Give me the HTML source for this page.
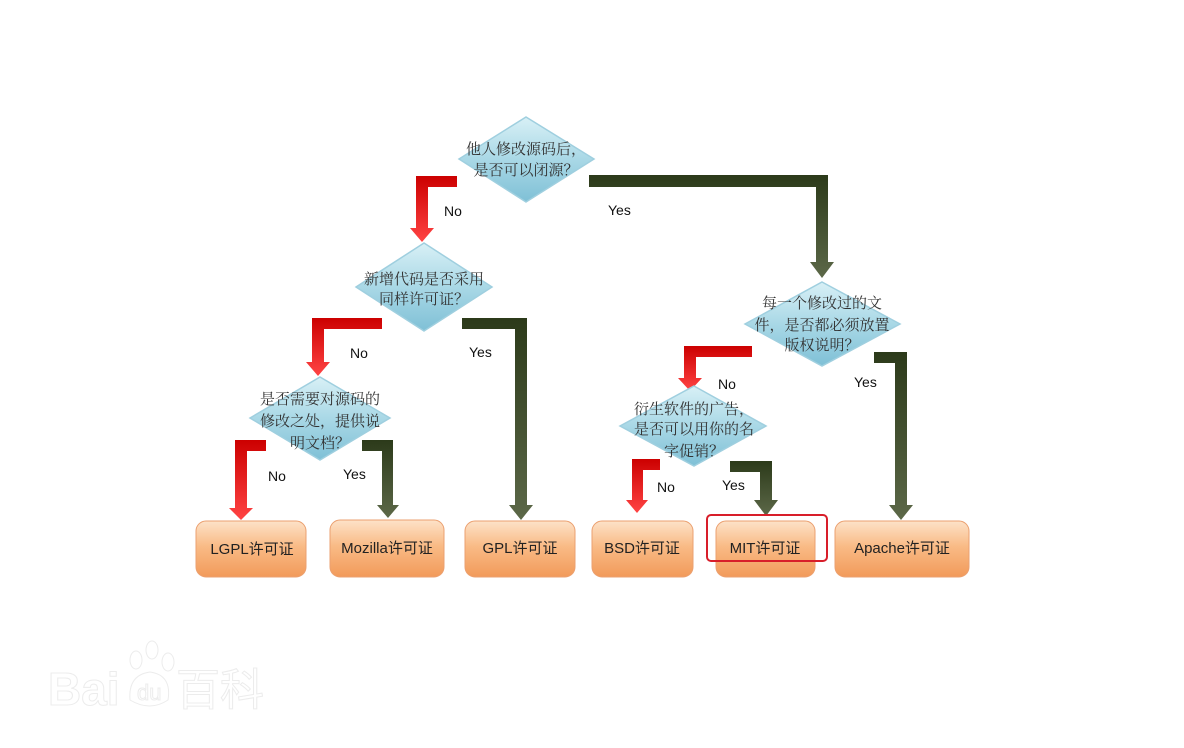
<!DOCTYPE html>
<html><head><meta charset="utf-8"><style>
html,body{margin:0;padding:0;background:#fff;}
svg{display:block;}
.dt{font-family:"Liberation Serif","Noto Serif CJK SC","Noto Sans CJK SC",serif;font-size:15px;fill:#333;text-anchor:middle;}
.lb{font-family:"Liberation Sans",sans-serif;font-size:14px;fill:#111;}
.bt{font-family:"Liberation Sans","Noto Sans CJK SC",sans-serif;font-size:15px;fill:#222;text-anchor:middle;}
</style></head><body>
<svg width="1184" height="748" viewBox="0 0 1184 748" xmlns="http://www.w3.org/2000/svg">
<defs>
<linearGradient id="dg" x1="0" y1="0" x2="0" y2="1">
<stop offset="0" stop-color="#d8f0f6"/><stop offset="0.5" stop-color="#a9d8e6"/><stop offset="1" stop-color="#7fc0d6"/>
</linearGradient>
<linearGradient id="og" x1="0" y1="0" x2="0" y2="1">
<stop offset="0" stop-color="#fde2c8"/><stop offset="0.45" stop-color="#f9bb86"/><stop offset="1" stop-color="#f29a5a"/>
</linearGradient>
<linearGradient id="rg" x1="0" y1="0" x2="0" y2="1">
<stop offset="0" stop-color="#c00"/><stop offset="1" stop-color="#f44"/>
</linearGradient>
<linearGradient id="gg" x1="0" y1="0" x2="0" y2="1">
<stop offset="0" stop-color="#2c3a1a"/><stop offset="1" stop-color="#5c6848"/>
</linearGradient>
</defs>

<!-- watermark -->
<g fill="#fff" stroke="#ececec" stroke-width="1">
<text x="48" y="705" font-family="Liberation Sans,sans-serif" font-size="46" font-weight="bold">Bai</text>
<ellipse cx="136" cy="660" rx="6" ry="9"/>
<ellipse cx="152" cy="650" rx="6" ry="9"/>
<ellipse cx="168" cy="662" rx="6" ry="9"/>
<path d="M130 700 Q128 675 150 672 Q172 675 168 700 Q150 712 130 700Z"/>
<text x="137" y="700" font-family="Liberation Sans,sans-serif" font-size="22">du</text>
<text x="176" y="705" font-family="Liberation Sans,Noto Sans CJK SC,sans-serif" font-size="44">百科</text>
</g>

<!-- arrows -->
<polygon fill="url(#rg)" points="457,176 416,176 416,228 410,228 422,242 434,228 428,228 428,187 457,187"/>
<polygon fill="url(#gg)" points="589,175 828,175 828,262 834,262 822,278 810,262 816,262 816,187 589,187"/>
<polygon fill="url(#rg)" points="382,318 312,318 312,362 306,362 318,376 330,362 324,362 324,329 382,329"/>
<polygon fill="url(#gg)" points="462,318 527,318 527,505 533,505 521,520 509,505 515,505 515,329 462,329"/>
<polygon fill="url(#rg)" points="266,440 235,440 235,508 229,508 241,520 253,508 247,508 247,451 266,451"/>
<polygon fill="url(#gg)" points="362,440 393,440 393,505 399,505 388,518 377,505 382,505 382,451 362,451"/>
<polygon fill="url(#rg)" points="752,346 684,346 684,378 678,378 690,391 702,378 696,378 696,357 752,357"/>
<polygon fill="url(#gg)" points="874,352 907,352 907,505 913,505 901,520 889,505 895,505 895,363 874,363"/>
<polygon fill="url(#rg)" points="660,459 632,459 632,500 626,500 637,513 648,500 643,500 643,470 660,470"/>
<polygon fill="url(#gg)" points="730,461 772,461 772,500 778,500 766,516 754,500 760,500 760,472 730,472"/>

<!-- diamonds -->
<g stroke="#9fcfdf" stroke-width="1.5" fill="url(#dg)">
<polygon points="526,117 594,159 526,202 459,159"/>
<polygon points="424,243 492,287 424,331 356,287"/>
<polygon points="320,377 390,418 320,460 250,418"/>
<polygon points="822,282 900,324 822,366 745,324"/>
<polygon points="694,386 766,426 694,466 620,426"/>
</g>
<text class="dt" x="526" y="154">他人修改源码后，</text>
<text class="dt" x="526" y="175">是否可以闭源？</text>
<text class="dt" x="424" y="284">新增代码是否采用</text>
<text class="dt" x="424" y="304">同样许可证？</text>
<text class="dt" x="320" y="404">是否需要对源码的</text>
<text class="dt" x="320" y="426">修改之处，提供说</text>
<text class="dt" x="320" y="448">明文档？</text>
<text class="dt" x="822" y="308">每一个修改过的文</text>
<text class="dt" x="822" y="330">件，是否都必须放置</text>
<text class="dt" x="822" y="350">版权说明？</text>
<text class="dt" x="694" y="414">衍生软件的广告，</text>
<text class="dt" x="694" y="434">是否可以用你的名</text>
<text class="dt" x="694" y="456">字促销？</text>

<!-- labels -->
<text class="lb" x="444" y="216">No</text>
<text class="lb" x="608" y="215">Yes</text>
<text class="lb" x="350" y="358">No</text>
<text class="lb" x="469" y="357">Yes</text>
<text class="lb" x="268" y="481">No</text>
<text class="lb" x="343" y="479">Yes</text>
<text class="lb" x="718" y="389">No</text>
<text class="lb" x="854" y="387">Yes</text>
<text class="lb" x="657" y="492">No</text>
<text class="lb" x="722" y="490">Yes</text>

<!-- boxes -->
<g stroke="#eba070" stroke-width="1" fill="url(#og)">
<rect x="196" y="521" width="110" height="56" rx="10"/>
<rect x="330" y="520" width="114" height="57" rx="10"/>
<rect x="465" y="521" width="110" height="56" rx="10"/>
<rect x="592" y="521" width="101" height="56" rx="10"/>
<rect x="716" y="521" width="99" height="56" rx="10"/>
<rect x="835" y="521" width="134" height="56" rx="10"/>
</g>
<text class="bt" x="252" y="554">LGPL许可证</text>
<text class="bt" x="387" y="553">Mozilla许可证</text>
<text class="bt" x="520" y="553">GPL许可证</text>
<text class="bt" x="642" y="553">BSD许可证</text>
<text class="bt" x="765" y="553">MIT许可证</text>
<text class="bt" x="902" y="553">Apache许可证</text>
<rect x="707" y="515" width="120" height="46" rx="4" fill="none" stroke="#d81e2a" stroke-width="2"/>
</svg>
</body></html>
